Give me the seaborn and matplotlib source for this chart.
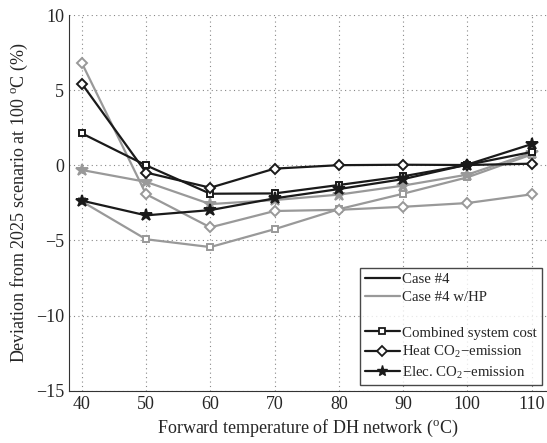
import pandas as pd
import matplotlib
matplotlib.use("Agg")
import matplotlib.pyplot as plt
import seaborn as sns
from matplotlib.lines import Line2D

# forward temperature (deg C)
temps = [40, 50, 60, 70, 80, 90, 100, 110]

# Case #4
cost_case4 = [2.13, 0.0, -1.89, -1.87, -1.31, -0.73, 0.03, 0.89]
heat_case4 = [5.44, -0.48, -1.49, -0.22, 0.01, 0.04, 0.02, 0.11]
elec_case4 = [-2.35, -3.33, -2.98, -2.2, -1.58, -0.92, 0.05, 1.41]

# Case #4 w/HP
cost_hp = [-2.4, -4.92, -5.44, -4.25, -2.92, -1.89, -0.8, 0.72]
heat_hp = [6.82, -1.92, -4.13, -3.04, -2.96, -2.76, -2.51, -1.93]
elec_hp = [-0.31, -1.1, -2.58, -2.31, -1.95, -1.35, -0.62, 0.82]

rows = []
for case, series in [("Case #4", [cost_case4, heat_case4, elec_case4]),
                     ("Case #4 w/HP", [cost_hp, heat_hp, elec_hp])]:
    for metric, vals in zip(["cost", "heat", "elec"], series):
        for t, v in zip(temps, vals):
            rows.append({"case": case, "metric": metric, "temp": t, "dev": v})
df = pd.DataFrame(rows)

sns.set_style("white")
plt.rcParams["font.family"] = ["Liberation Serif", "DejaVu Serif"]
plt.rcParams["mathtext.fontset"] = "custom"
plt.rcParams["mathtext.rm"] = "Liberation Serif"
plt.rcParams["mathtext.it"] = "Liberation Serif:italic"

colors = {"Case #4": "#1a1a1a", "Case #4 w/HP": "#999999"}
markers = {"cost": "s", "heat": "D", "elec": "*"}
msizes = {"cost": 5, "heat": 5.5, "elec": 9}

fig = plt.figure(figsize=(5.47, 4.43), dpi=100)
ax = fig.add_axes([0.126, 0.118, 0.874, 0.848])

# gray first so black draws on top
for case in ["Case #4 w/HP", "Case #4"]:
    for metric in ["cost", "heat", "elec"]:
        sub = df[(df["case"] == case) & (df["metric"] == metric)]
        face = colors[case] if metric == "elec" else "white"
        sns.lineplot(data=sub, x="temp", y="dev", ax=ax, color=colors[case],
                     linewidth=1.6, marker=markers[metric],
                     markersize=msizes[metric], markerfacecolor=face,
                     markeredgecolor=colors[case], markeredgewidth=1.4,
                     legend=False)

ax.set_xlim(38, 112.4)
ax.set_ylim(-15, 10)
ax.set_xticks(temps)
ax.set_yticks([-15, -10, -5, 0, 5, 10])
ax.grid(True, linestyle=(0, (1, 3)), color="#888888", linewidth=0.8)
ax.tick_params(direction="in", labelsize=13, length=4, color="#333333")
for side in ["top", "right"]:
    ax.spines[side].set_visible(False)
for side in ["left", "bottom"]:
    ax.spines[side].set_color("#333333")
    ax.spines[side].set_linewidth(0.8)

ax.set_xlabel(r"Forward temperature of DH network ($^{\mathrm{o}}$C)", fontsize=13)
ax.set_ylabel(r"Deviation from 2025 scenario at 100 $^{\mathrm{o}}$C (%)", fontsize=13)

handles = [
    Line2D([], [], color="#1a1a1a", lw=1.6),
    Line2D([], [], color="#999999", lw=1.6),
    Line2D([], [], color="none"),
    Line2D([], [], color="#1a1a1a", lw=1.6, marker="s", ms=4.5, mfc="white", mew=1.3),
    Line2D([], [], color="#1a1a1a", lw=1.6, marker="D", ms=5, mfc="white", mew=1.3),
    Line2D([], [], color="#1a1a1a", lw=1.6, marker="*", ms=8),
]
labels = ["Case #4", "Case #4 w/HP", "", "Combined system cost",
          r"Heat CO$_2$$-$emission", r"Elec. CO$_2$$-$emission"]
leg = ax.legend(handles, labels, loc="lower left",
                bbox_to_anchor=(0.609, 0.015), fontsize=10.7, frameon=True,
                fancybox=False, handlelength=2.4, handletextpad=0.15,
                borderpad=0.3, labelspacing=0.3, borderaxespad=0)
leg.get_frame().set_edgecolor("#1a1a1a")
leg.get_frame().set_linewidth(1.0)

fig.savefig("out.png", dpi=100)
plt.close(fig)
